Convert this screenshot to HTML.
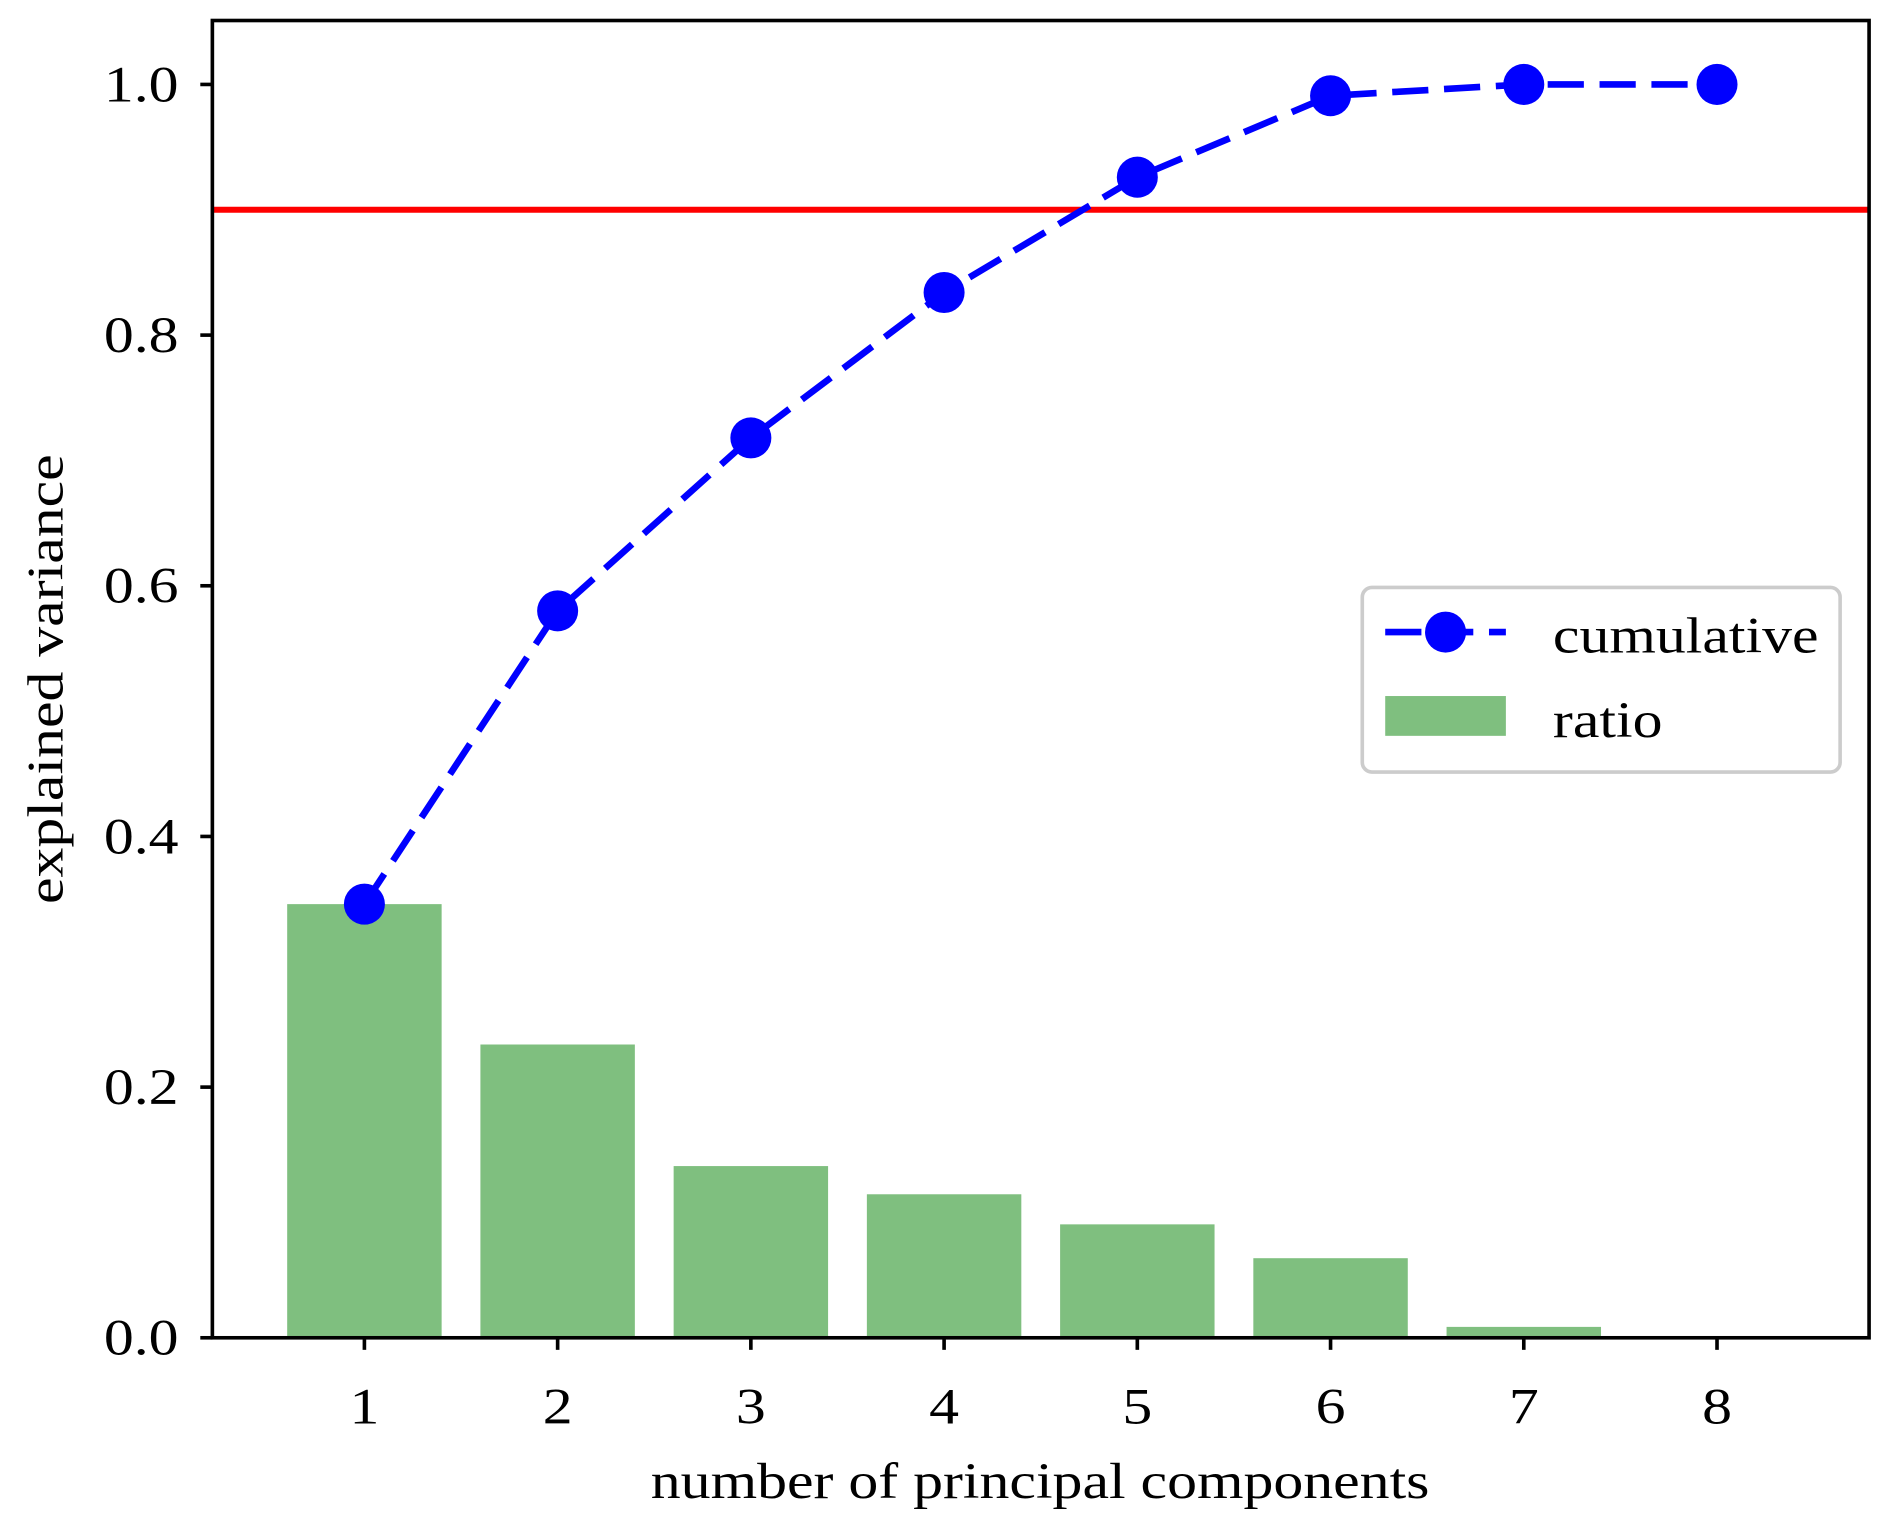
<!DOCTYPE html>
<html><head><meta charset="utf-8"><style>html,body{margin:0;padding:0;background:#fff}svg{display:block}</style></head>
<body>
<svg width="1892" height="1532" viewBox="0 0 1568 1270" preserveAspectRatio="none" xmlns="http://www.w3.org/2000/svg" font-family="'Liberation Serif', serif">
<g id="plot"></g>
</svg>
<script>
const categories = [1,2,3,4,5,6,7,8];
const ratioValues = [0.346,0.234,0.137,0.1145,0.0905,0.0635,0.0087,0.0005];
const cumulativeValues = [0.346,0.580,0.718,0.834,0.926,0.991,1.0,1.0];
const yTicks = [0.0,0.2,0.4,0.6,0.8,1.0];
const yTickLabels = ["0.0","0.2","0.4","0.6","0.8","1.0"];
const threshold = 0.9;

const L=176,R=1549,T=17,B=1109;
const SX=1.18;
const xs = v => 302 + (v-1)*160.14;
const ys = v => 1109 - v*1039;
const NS="http://www.w3.org/2000/svg";
const g=document.getElementById('plot');
function mk(tag,attrs,parent){const e=document.createElementNS(NS,tag);for(const k in attrs)e.setAttribute(k,attrs[k]);(parent||g).appendChild(e);return e;}

categories.forEach((c,i)=>{
  const e=mk('rect',{x:xs(c)-64,y:ys(ratioValues[i]),width:128,height:ys(0)-ys(ratioValues[i]),fill:'#7fbf7f'});
  
  
});
const th=mk('line',{x1:L,x2:R,y1:ys(threshold),y2:ys(threshold),stroke:'#ff0000','stroke-width':5});


const pl=mk('polyline',{points:categories.map((c,i)=>xs(c)+','+ys(cumulativeValues[i])).join(' '),fill:'none',stroke:'#0000ff','stroke-width':5.5,'stroke-dasharray':'30 13'});


categories.forEach((c,i)=>{
  const e=mk('circle',{cx:xs(c),cy:ys(cumulativeValues[i]),r:17,fill:'#0000ff'});
  
  
});
const fr=mk('rect',{x:L,y:T,width:R-L,height:B-T,fill:'none',stroke:'#000','stroke-width':3});


yTicks.forEach((v,i)=>{
  mk('line',{x1:L-10,x2:L,y1:ys(v),y2:ys(v),stroke:'#000','stroke-width':3});
  const t=mk('text',{x:0,y:0,'text-anchor':'end','font-size':42,transform:'translate(148,'+(ys(v)+14)+') scale('+SX+',1)'});
  t.textContent=yTickLabels[i];
  
  
});
categories.forEach(c=>{
  mk('line',{x1:xs(c),x2:xs(c),y1:B,y2:B+10,stroke:'#000','stroke-width':3});
  const t=mk('text',{x:0,y:0,'text-anchor':'middle','font-size':42,transform:'translate('+xs(c)+',1180) scale('+SX+',1)'});
  t.textContent=String(c);
  
  
});
</script>
<svg style="position:absolute;left:0;top:0" width="1892" height="1532" viewBox="0 0 1568 1270" preserveAspectRatio="none" font-family="'Liberation Serif', serif">
<text transform="translate(862,1242) scale(1.18,1)" text-anchor="middle" font-size="42">number of principal components</text>
<text transform="translate(52,563) rotate(-90) scale(1.18,1)" text-anchor="middle" font-size="42">explained variance</text>
<g>
<rect x="1129" y="487" width="396" height="153" rx="8" fill="#fff" fill-opacity="0.8" stroke="#ccc" stroke-width="3"/>
<line x1="1148" x2="1248" y1="524" y2="524" stroke="#0000ff" stroke-width="5.5" stroke-dasharray="30 13"/>
<circle cx="1198" cy="524" r="17" fill="#0000ff"/>
<text transform="translate(1287,541) scale(1.18,1)" font-size="42">cumulative</text>
<rect x="1148" y="577" width="100" height="33" fill="#7fbf7f"/>
<text transform="translate(1287,611) scale(1.18,1)" font-size="42">ratio</text>
</g>
</svg>
</body></html>
